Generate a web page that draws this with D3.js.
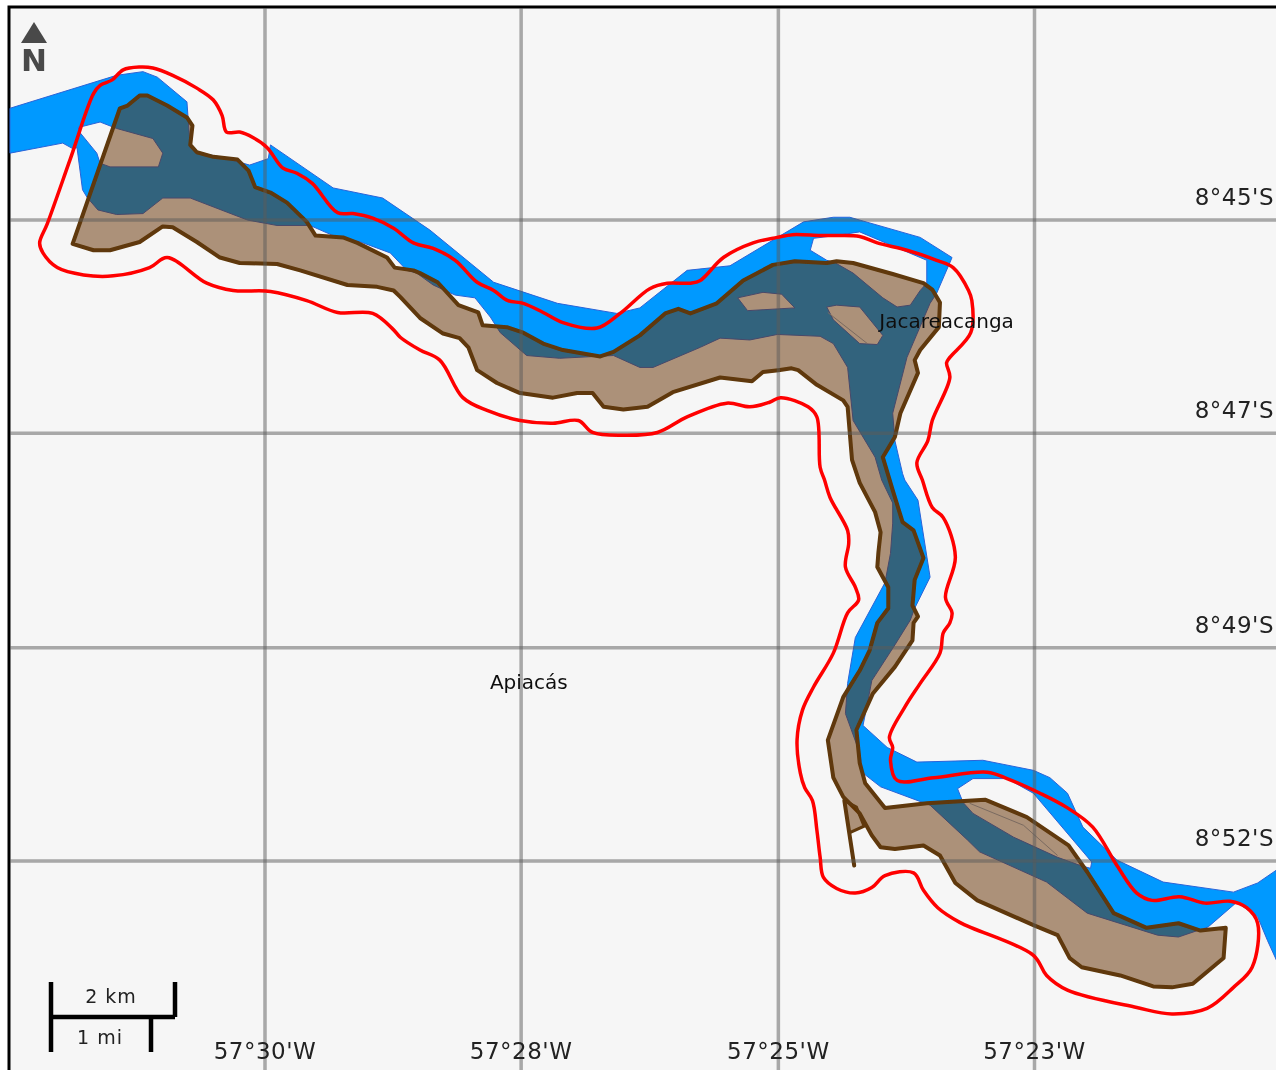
<!DOCTYPE html>
<html lang="en">
<head>
    <meta charset="UTF-8">
    <title>Jacareacanga river map</title>
    <script src="https://d3js.org/d3.v7.min.js"></script>
    <style>
        body { margin: 0; padding: 0; background: #fff; overflow: hidden; }
        svg { display: block; }
        text { font-family: "DejaVu Sans", sans-serif; }
        .grid { stroke: #5a5a5a; stroke-opacity: 0.5; stroke-width: 3.5px; }
        .tick-label { font-size: 23px; fill: #222; letter-spacing: 0.5px; }
        .place { font-size: 20px; fill: #111; text-anchor: middle; }
        .scale-label { font-size: 19px; fill: #222; text-anchor: middle; letter-spacing: 1px; }
        .scale-bar { stroke: #000; stroke-width: 4.5px; fill: none; }
    </style>
</head>
<body>
    <div id="map"></div>

    <script>
        // Graticule, all values are arc minutes: west of 57 deg, south of 8 deg
        const lonTicks = [30, 27.67, 25.33, 23];
        const lonLabels = ["57°30'W", "57°28'W", "57°25'W", "57°23'W"];
        const latTicks = [45, 47.33, 49.67, 52];
        const latLabels = ["8°45'S", "8°47'S", "8°49'S", "8°52'S"];

        const places = [
            { name: "Jacareacanga", lon: 23.8, lat: 46.18 },
            { name: "Apiacás", lon: 27.6, lat: 50.12 }
        ];

        // Buffer zone (red outline)
        const buffer = [[31.56,43.62],[31.50,43.53],[31.39,43.47],[31.29,43.36],[31.14,43.33],[31.02,43.34],[30.84,43.42],[30.62,43.56],[30.47,43.69],[30.39,43.86],[30.35,44.04],[30.23,44.04],[30.11,44.10],[29.98,44.21],[29.84,44.43],[29.71,44.49],[29.57,44.60],[29.34,44.92],[29.20,44.93],[29.02,44.98],[28.83,45.09],[28.65,45.25],[28.47,45.31],[28.27,45.44],[28.07,45.68],[27.92,45.77],[27.79,45.88],[27.65,45.91],[27.47,46.01],[27.29,46.12],[26.98,46.18],[26.77,46.02],[26.50,45.75],[26.34,45.69],[26.13,45.69],[26.04,45.66],[25.83,45.41],[25.56,45.25],[25.34,45.19],[25.20,45.16],[24.95,45.17],[24.81,45.17],[24.59,45.18],[24.43,45.25],[24.16,45.33],[23.89,45.44],[23.74,45.52],[23.60,45.77],[23.57,45.88],[23.58,46.23],[23.77,46.50],[23.80,46.56],[23.77,46.72],[23.93,47.19],[23.97,47.41],[24.07,47.65],[24.02,47.84],[23.93,48.14],[23.83,48.25],[23.72,48.68],[23.81,49.12],[23.75,49.29],[23.77,49.40],[23.83,49.51],[23.86,49.73],[24.04,50.06],[24.18,50.32],[24.32,50.65],[24.29,50.76],[24.31,50.90],[24.25,51.12],[23.92,51.09],[23.43,51.03],[23.25,51.10],[22.95,51.26],[22.70,51.42],[22.47,51.63],[22.25,52.05],[22.07,52.35],[21.93,52.43],[21.68,52.39],[21.45,52.46],[21.22,52.44],[21.07,52.51],[20.97,52.68],[21.02,53.16],[21.19,53.38],[21.43,53.61],[21.75,53.67],[22.07,53.60],[22.70,53.41],[22.89,53.25],[23.01,53.03],[23.68,52.67],[23.88,52.51],[24.01,52.32],[24.10,52.13],[24.36,52.16],[24.48,52.29],[24.63,52.35],[24.80,52.30],[24.92,52.18],[24.95,51.96],[24.98,51.66],[25.02,51.34],[25.09,51.20],[25.13,51.04],[25.16,50.68],[25.11,50.35],[25.01,50.10],[24.83,49.73],[24.70,49.29],[24.60,49.15],[24.63,49.01],[24.72,48.79],[24.69,48.53],[24.70,48.39],[24.86,48.03],[24.91,47.84],[24.95,47.70],[24.98,47.15],[25.06,47.04],[25.31,46.94],[25.41,46.99],[25.59,47.04],[25.80,47.00],[26.16,47.15],[26.43,47.32],[26.74,47.35],[27.02,47.32],[27.15,47.19],[27.38,47.22],[27.68,47.19],[27.98,47.08],[28.20,46.94],[28.41,46.53],[28.59,46.42],[28.77,46.28],[28.83,46.20],[29.02,46.02],[29.34,46.01],[29.62,45.88],[29.95,45.78],[30.29,45.77],[30.53,45.69],[30.89,45.41],[31.05,45.52],[31.38,45.61],[31.65,45.60],[31.89,45.52],[32.02,45.36],[32.05,45.25],[31.98,45.04],[31.77,44.33]];

        // Reservoir area (brown polygon)
        const reservoir = [[31.75,45.26],[31.32,43.78],[31.25,43.75],[31.14,43.64],[31.07,43.64],[30.89,43.75],[30.71,43.88],[30.66,43.97],[30.68,44.18],[30.62,44.26],[30.47,44.31],[30.25,44.34],[30.15,44.46],[30.09,44.64],[29.95,44.70],[29.80,44.81],[29.62,45.02],[29.54,45.17],[29.29,45.19],[29.16,45.25],[28.89,45.41],[28.82,45.52],[28.65,45.55],[28.59,45.58],[28.43,45.68],[28.24,45.93],[28.06,46.01],[28.02,46.15],[27.80,46.17],[27.65,46.23],[27.47,46.35],[27.29,46.42],[26.95,46.49],[26.83,46.44],[26.59,46.26],[26.36,46.02],[26.24,45.97],[26.13,46.02],[25.89,45.91],[25.65,45.66],[25.38,45.49],[25.18,45.45],[24.89,45.47],[24.80,45.45],[24.65,45.47],[24.29,45.59],[24.01,45.69],[23.93,45.76],[23.86,45.90],[23.87,46.17],[24.04,46.42],[24.09,46.53],[24.06,46.67],[24.22,47.11],[24.27,47.37],[24.38,47.59],[24.29,47.95],[24.20,48.30],[24.10,48.39],[24.01,48.69],[24.09,48.93],[24.11,49.21],[24.06,49.33],[24.10,49.40],[24.11,49.59],[24.27,49.88],[24.47,50.17],[24.62,50.57],[24.59,50.93],[24.54,51.15],[24.36,51.42],[23.98,51.37],[23.45,51.33],[23.07,51.52],[22.69,51.83],[22.52,52.12],[22.28,52.57],[21.98,52.73],[21.69,52.68],[21.49,52.76],[21.26,52.73],[21.28,53.06],[21.56,53.34],[21.75,53.38],[21.92,53.37],[22.22,53.25],[22.57,53.16],[22.68,53.06],[22.79,52.81],[23.01,52.70],[23.52,52.43],[23.72,52.24],[23.86,51.94],[24.01,51.83],[24.27,51.87],[24.40,51.85],[24.48,51.72],[24.59,51.48],[24.74,51.30],[24.83,51.09],[24.88,50.68],[24.74,50.21],[24.59,49.92],[24.50,49.70],[24.43,49.40],[24.33,49.24],[24.33,49.01],[24.43,48.79],[24.42,48.63],[24.40,48.41],[24.45,48.19],[24.59,47.87],[24.66,47.62],[24.70,47.04],[24.74,46.97],[24.98,46.80],[25.15,46.64],[25.21,46.62],[25.33,46.64],[25.47,46.66],[25.57,46.76],[25.86,46.72],[26.29,46.88],[26.52,47.04],[26.74,47.07],[26.92,47.04],[27.02,46.89],[27.16,46.89],[27.38,46.94],[27.68,46.89],[27.89,46.78],[28.07,46.64],[28.15,46.39],[28.23,46.29],[28.38,46.24],[28.59,46.07],[28.77,45.84],[28.83,45.77],[28.98,45.73],[29.25,45.71],[29.68,45.55],[29.89,45.48],[30.23,45.47],[30.41,45.41],[30.62,45.24],[30.84,45.08],[30.93,45.07],[31.14,45.24],[31.41,45.33],[31.56,45.33]];
        const damTail = [[24.73,51.34],[24.64,52.05]];
        const damBox = [[24.73,51.34],[24.62,51.41],[24.55,51.62],[24.68,51.69]];
        const hairlines = [
            [[24.88,46.01],[24.52,46.35]],
            [[23.59,51.37],[23.10,51.61],[22.79,51.94]]
        ];

        // River (blue polygon) and the islands cut out of it
        const river = [[32.32,43.78],[31.35,43.42],[31.11,43.38],[30.98,43.44],[30.71,43.71],[30.70,43.88],[30.68,44.21],[30.62,44.26],[30.41,44.31],[30.14,44.40],[29.97,44.33],[29.95,44.18],[29.38,44.65],[28.93,44.76],[28.50,45.11],[27.92,45.68],[27.34,45.91],[26.80,46.02],[26.59,45.96],[26.16,45.55],[25.77,45.50],[25.31,45.17],[25.10,45.02],[24.83,44.97],[24.68,44.97],[24.04,45.19],[23.75,45.41],[23.89,45.80],[23.95,45.91],[24.16,46.50],[24.29,47.11],[24.27,47.41],[24.20,47.77],[24.18,47.84],[24.06,48.06],[23.95,48.90],[24.09,49.24],[24.13,49.37],[24.27,49.64],[24.48,50.03],[24.52,50.28],[24.56,50.52],[24.34,50.76],[24.07,50.92],[23.47,50.90],[23.01,51.01],[22.86,51.09],[22.70,51.26],[22.56,51.63],[22.25,51.99],[21.83,52.23],[21.19,52.34],[20.97,52.24],[20.80,52.10],[20.80,53.08],[20.88,52.87],[20.97,52.61],[21.16,52.45],[21.42,52.72],[21.69,52.83],[21.88,52.81],[22.52,52.57],[22.89,52.23],[23.50,51.90],[23.61,51.77],[23.95,51.39],[24.40,51.19],[24.56,51.04],[24.59,50.82],[24.72,50.39],[24.70,50.06],[24.63,49.56],[24.36,48.96],[24.31,48.64],[24.29,48.31],[24.29,48.09],[24.39,47.84],[24.45,47.59],[24.65,47.19],[24.70,46.61],[24.83,46.35],[24.95,46.27],[25.34,46.25],[25.59,46.31],[25.86,46.29],[26.04,46.39],[26.47,46.61],[26.59,46.61],[26.83,46.48],[27.32,46.51],[27.62,46.48],[27.86,46.23],[27.95,46.06],[28.09,45.85],[28.27,45.82],[28.47,45.71],[28.62,45.58],[28.71,45.55],[28.86,45.36],[29.13,45.24],[29.38,45.17],[29.59,45.06],[29.89,45.06],[30.16,45.00],[30.68,44.76],[30.93,44.76],[31.11,44.93],[31.35,44.94],[31.52,44.89],[31.62,44.75],[31.66,44.67],[31.71,44.21],[31.75,44.22],[31.84,44.16],[32.32,44.27]];
        const islandWest = [[31.70,43.99],[31.50,43.93],[31.35,44.00],[31.02,44.11],[30.93,44.27],[30.97,44.42],[31.41,44.42],[31.50,44.38],[31.53,44.27],[31.68,44.05]];
        const islandSmall = [[25.70,45.85],[25.47,45.79],[25.30,45.81],[25.18,45.96],[25.61,45.99]];
        const islandMid = [[24.89,45.95],[24.80,45.93],[24.59,45.95],[24.38,46.26],[24.43,46.36],[24.59,46.35],[24.83,46.09]];
        const islandBend = [[25.01,45.20],[25.04,45.33],[24.89,45.44],[24.81,45.47],[24.65,45.58],[24.38,45.85],[24.25,45.95],[24.13,45.93],[24.04,45.77],[23.98,45.69],[23.98,45.44],[24.59,45.13],[24.81,45.17]];
        const islandEast = [[23.70,51.21],[23.56,51.10],[23.25,51.10],[23.01,51.26],[22.48,52.01],[22.49,52.08],[22.58,52.05],[22.79,51.96],[23.19,51.74],[23.56,51.48],[23.65,51.36]];
        const riverHoles = [islandWest, islandSmall, islandMid, islandBend, islandEast];

        const width = 1276;
        const height = 1070;

        const x = d3.scaleLinear().domain([30, 23]).range([265, 1034.5]);
        const y = d3.scaleLinear().domain([45, 52]).range([220, 861]);

        const line = d3.line().x(d => x(d[0])).y(d => y(d[1]));
        // Only the red outline is rounded in the source
        const smooth = d3.line().x(d => x(d[0])).y(d => y(d[1])).curve(d3.curveCatmullRomClosed.alpha(0.5));

        const svg = d3.select("#map").append("svg")
            .attr("width", width)
            .attr("height", height);

        // Source is an upscaled raster, so everything is a bit soft
        svg.append("filter").attr("id", "soft")
            .attr("filterUnits", "userSpaceOnUse")
            .attr("x", 0).attr("y", 0).attr("width", width).attr("height", height)
            .append("feGaussianBlur").attr("stdDeviation", 0.45);

        const root = svg.append("g").attr("filter", "url(#soft)");

        root.append("rect")
            .attr("width", width).attr("height", height)
            .attr("fill", "#fff");

        // Map frame
        root.append("rect")
            .attr("x", 9).attr("y", 7)
            .attr("width", width).attr("height", height)
            .attr("fill", "#f6f6f6")
            .attr("stroke", "#000")
            .attr("stroke-width", 3);

        // River with holes
        root.append("path")
            .attr("d", line(river) + "Z" + riverHoles.map(h => line(h) + "Z").join(""))
            .attr("fill", "#0099ff")
            .attr("fill-rule", "evenodd")
            .attr("stroke", "#2b63d8")
            .attr("stroke-width", 1);

        // Reservoir on top, see-through so the river darkens under it
        root.append("path")
            .attr("d", line(reservoir) + "Z")
            .attr("fill", "rgb(100,47,0)")
            .attr("fill-opacity", 0.51)
            .attr("stroke", "#5f3808")
            .attr("stroke-width", 4)
            .attr("stroke-linejoin", "round");

        root.append("path")
            .attr("d", line(damBox))
            .attr("fill", "rgb(100,47,0)")
            .attr("fill-opacity", 0.51)
            .attr("stroke", "#5f3808")
            .attr("stroke-width", 3);

        root.append("path")
            .attr("d", line(damTail))
            .attr("fill", "none")
            .attr("stroke", "#5f3808")
            .attr("stroke-width", 4)
            .attr("stroke-linecap", "round");

        root.selectAll(".hairline")
            .data(hairlines)
            .enter().append("path")
            .attr("d", d => line(d))
            .attr("fill", "none")
            .attr("stroke", "#7a6a60")
            .attr("stroke-width", 1);

        // Grid
        root.selectAll(".grid-v")
            .data(lonTicks)
            .enter().append("line")
            .attr("class", "grid")
            .attr("x1", d => x(d)).attr("x2", d => x(d))
            .attr("y1", 8).attr("y2", height);

        root.selectAll(".grid-h")
            .data(latTicks)
            .enter().append("line")
            .attr("class", "grid")
            .attr("x1", 10).attr("x2", width)
            .attr("y1", d => y(d)).attr("y2", d => y(d));

        // Buffer outline
        root.append("path")
            .attr("d", smooth(buffer))
            .attr("fill", "none")
            .attr("stroke", "#ff0000")
            .attr("stroke-width", 3.5)
            .attr("stroke-linejoin", "round");

        // Tick labels
        root.selectAll(".lon-label")
            .data(lonTicks)
            .enter().append("text")
            .attr("class", "tick-label")
            .attr("x", d => x(d))
            .attr("y", 1059)
            .attr("text-anchor", "middle")
            .text((d, i) => lonLabels[i]);

        root.selectAll(".lat-label")
            .data(latTicks)
            .enter().append("text")
            .attr("class", "tick-label")
            .attr("x", 1274)
            .attr("y", d => y(d) - 15)
            .attr("text-anchor", "end")
            .text((d, i) => latLabels[i]);

        // Place names
        root.selectAll(".place")
            .data(places)
            .enter().append("text")
            .attr("class", "place")
            .attr("x", d => x(d.lon))
            .attr("y", d => y(d.lat))
            .text(d => d.name);

        // North arrow
        root.append("path")
            .attr("d", "M34,22L47,43H21Z")
            .attr("fill", "#484848");
        root.append("text")
            .attr("x", 21).attr("y", 71)
            .attr("font-size", 30)
            .attr("font-weight", "bold")
            .attr("fill", "#484848")
            .attr("textLength", 26)
            .attr("lengthAdjust", "spacingAndGlyphs")
            .text("N");

        // Scale bar
        const bar = root.append("g");
        bar.append("path")
            .attr("class", "scale-bar")
            .attr("d", "M51,982V1052M51,1017H175M175,982V1017M151,1017V1052");
        bar.append("text").attr("class", "scale-label").attr("x", 111).attr("y", 1003).text("2 km");
        bar.append("text").attr("class", "scale-label").attr("x", 100).attr("y", 1044).text("1 mi");
    </script>
</body>
</html>
